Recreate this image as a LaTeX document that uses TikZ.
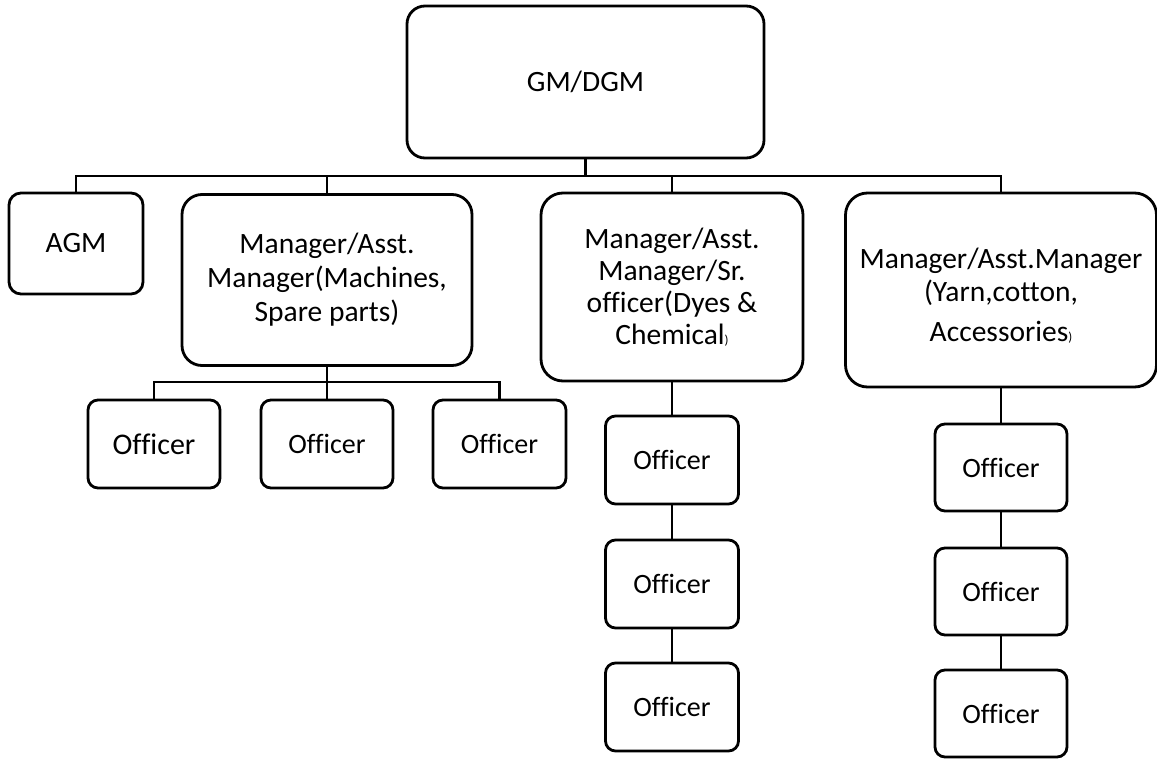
\documentclass[tikz,border=0pt]{standalone}
\usepackage{fontspec}
\setmainfont{Carlito}[Ligatures={NoCommon}]
\begin{document}
\begin{tikzpicture}[x=1pt,y=-1pt,
  box/.style={draw, line width=2.8pt, align=center, inner sep=0pt, outer sep=0pt,
    font=\fontsize{29.5}{34}\selectfont},
  officer/.style={box, rounded corners=10pt, minimum width=132pt, minimum height=88pt,
    font=\fontsize{28}{33}\selectfont},
  conn/.style={draw, line width=2.8pt}]
\useasboundingbox (0,0) rectangle (1157,758);
% top
\node[box, rounded corners=18pt, minimum width=357pt, minimum height=152pt] (gm) at (585.5,82) {GM/DGM};
% second level
\node[box, rounded corners=12pt, minimum width=134pt, minimum height=101pt] (agm) at (76,243.5) {AGM};
\node[box, rounded corners=20pt, minimum width=290pt, minimum height=171pt] (mach) at (327,280)
  {Manager/Asst.\\Manager(Machines,\\Spare parts)};
\node[box, rounded corners=22pt, minimum width=262pt, minimum height=188pt, font=\fontsize{29.5}{32}\selectfont] (dyes) at (672,287)
  {Manager/Asst.\\Manager/Sr.\\officer(Dyes \&\\Chemical{\fontsize{13}{13}\selectfont)}};
\node[box, rounded corners=22pt, minimum width=311pt, minimum height=194pt, font=\fontsize{29.5}{32.5}\selectfont] (yarn) at (1001,290)
  {\rule{0pt}{32pt}Manager/Asst.Manager\\(Yarn,cotton,\\[8pt]Accessories{\fontsize{13}{13}\selectfont)}};
% machine officers
\node[officer, font=\fontsize{30}{33}\selectfont] (m1) at (154,444) {Officer};
\node[officer] (m2) at (327,444) {Officer};
\node[officer, minimum width=133pt] (m3) at (499.5,444) {Officer};
% dyes officers
\node[officer, minimum width=133pt] (d1) at (672,460) {Officer};
\node[officer, minimum width=133pt] (d2) at (672,584) {Officer};
\node[officer, minimum width=133pt] (d3) at (672,707) {Officer};
% yarn officers
\node[officer, minimum height=87pt] (y1) at (1001,467.5) {Officer};
\node[officer, minimum height=87pt] (y2) at (1001,591.5) {Officer};
\node[officer, minimum height=87pt] (y3) at (1001,713.5) {Officer};
% connectors
\coordinate (bus) at (0,176);
\coordinate (sub) at (0,382);
\draw[conn] (gm.south) -- (gm.south |- bus);
\draw[conn] (agm.north) -- (agm.north |- bus) -- (yarn.north |- bus) -- (yarn.north);
\draw[conn] (mach.north) -- (mach.north |- bus);
\draw[conn] (dyes.north) -- (dyes.north |- bus);
\draw[conn] (mach.south) -- (m2.north);
\draw[conn] (m1.north) -- (m1.north |- sub) -- (m3.north |- sub) -- (m3.north);
\draw[conn] (dyes.south) -- (d1.north);
\draw[conn] (d1.south) -- (d2.north);
\draw[conn] (d2.south) -- (d3.north);
\draw[conn] (yarn.south) -- (y1.north);
\draw[conn] (y1.south) -- (y2.north);
\draw[conn] (y2.south) -- (y3.north);
\end{tikzpicture}
\end{document}
